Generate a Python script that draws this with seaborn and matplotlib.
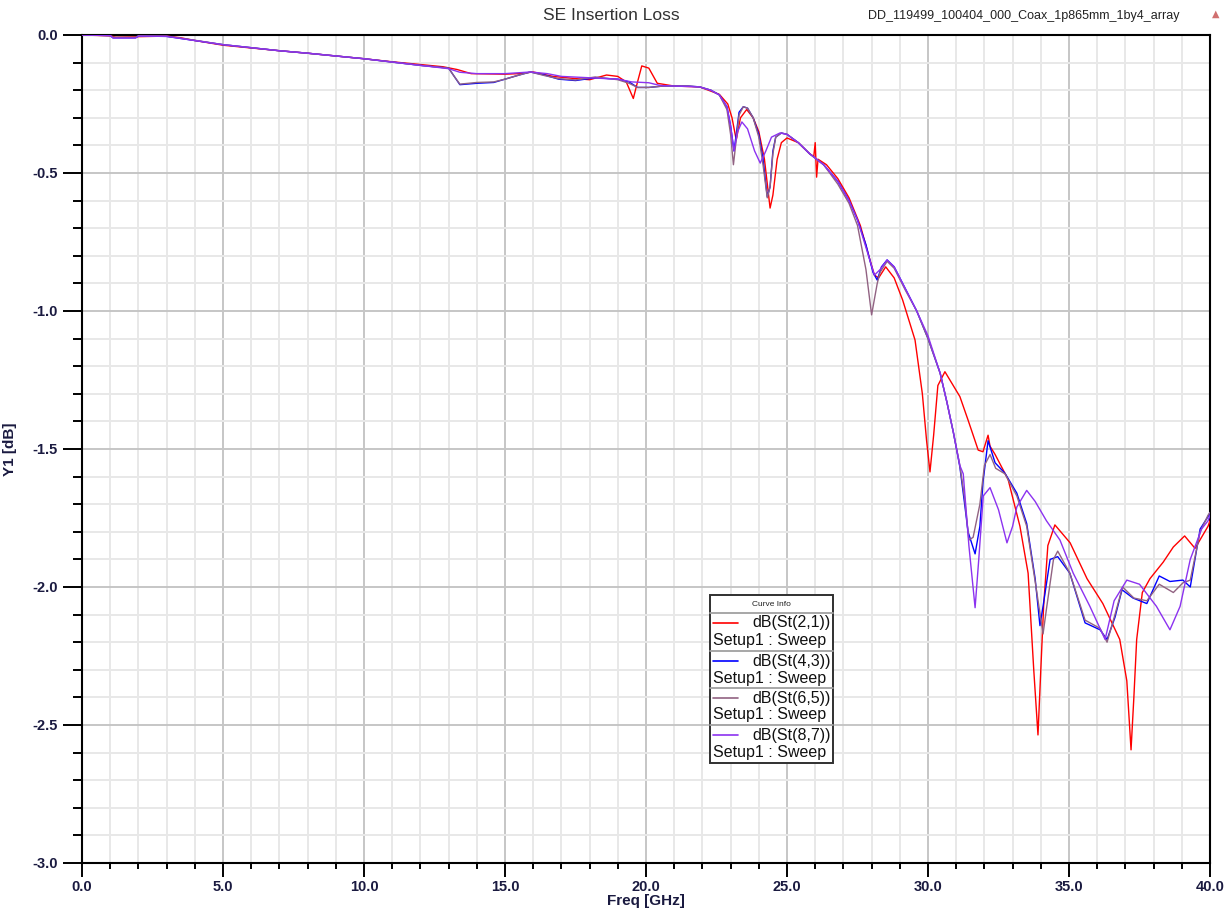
import numpy as np
import pandas as pd
import matplotlib
matplotlib.use("Agg")
import matplotlib.pyplot as plt
import seaborn as sns
from matplotlib.ticker import MultipleLocator, FormatStrFormatter
from matplotlib.patches import Rectangle
from matplotlib.lines import Line2D

# (freq GHz, dB)
st21 = [(0, 0), (1.0, -0.003), (1.2, -0.008), (2.0, -0.006), (3.0, -0.004), (3.5, -0.01), (4.0, -0.02),
        (5.0, -0.037), (6.0, -0.047), (7.0, -0.057), (8.0, -0.066), (9.0, -0.076), (10.0, -0.086),
        (11.0, -0.097), (12.0, -0.107), (12.8, -0.115), (13.3, -0.125), (13.8, -0.14), (15.0, -0.142),
        (15.5, -0.14), (16.0, -0.134), (16.7, -0.15), (17.5, -0.158), (18.0, -0.162), (18.6, -0.145),
        (19.0, -0.15), (19.3, -0.17), (19.55, -0.23), (19.7, -0.17), (19.85, -0.112), (20.1, -0.12),
        (20.4, -0.175), (21.0, -0.185), (21.9, -0.188), (22.6, -0.215), (22.9, -0.25), (23.05, -0.3),
        (23.2, -0.38), (23.35, -0.3), (23.57, -0.27), (23.8, -0.3), (24.0, -0.35), (24.2, -0.45),
        (24.4, -0.627), (24.5, -0.58), (24.65, -0.45), (24.8, -0.39), (25.0, -0.373), (25.4, -0.39),
        (25.8, -0.43), (25.95, -0.44), (26.0, -0.39), (26.05, -0.515), (26.1, -0.45), (26.4, -0.47),
        (26.8, -0.52), (27.2, -0.59), (27.6, -0.69), (27.9, -0.8), (28.1, -0.87), (28.25, -0.88),
        (28.5, -0.84), (28.8, -0.88), (29.1, -0.96), (29.54, -1.105), (29.8, -1.3), (29.95, -1.47),
        (30.07, -1.583), (30.2, -1.45), (30.35, -1.27), (30.6, -1.22), (31.13, -1.31), (31.42, -1.395),
        (31.78, -1.504), (31.95, -1.51), (32.13, -1.45), (32.2, -1.49), (32.38, -1.52), (32.84, -1.61),
        (33.26, -1.78), (33.55, -1.95), (33.75, -2.3), (33.9, -2.536), (34.0, -2.3), (34.1, -2.07),
        (34.25, -1.85), (34.5, -1.775), (35.04, -1.84), (35.64, -1.97), (36.2, -2.06), (36.8, -2.19),
        (37.05, -2.34), (37.2, -2.59), (37.3, -2.4), (37.4, -2.19), (37.6, -2.02), (37.87, -1.97),
        (38.34, -1.91), (38.7, -1.855), (39.1, -1.815), (39.47, -1.86), (39.93, -1.78), (40.0, -1.76)]

st43 = [(0, 0), (1.0, -0.002), (1.1, -0.01), (1.9, -0.01), (2.0, -0.004), (3.0, -0.005), (4.0, -0.02),
        (5.0, -0.035), (6.0, -0.046), (7.0, -0.057), (8.0, -0.066), (9.0, -0.076), (10.0, -0.086),
        (11.0, -0.098), (12.0, -0.11), (13.0, -0.12), (13.2, -0.15), (13.4, -0.18), (14.0, -0.175),
        (14.6, -0.172), (15.0, -0.16), (15.5, -0.145), (15.9, -0.134), (16.4, -0.145), (16.9, -0.16),
        (17.5, -0.165), (18.2, -0.155), (19.0, -0.16), (19.4, -0.17), (19.7, -0.19), (20.1, -0.19),
        (20.6, -0.185), (21.5, -0.185), (21.9, -0.188), (22.3, -0.2), (22.6, -0.217), (22.87, -0.26),
        (23.0, -0.33), (23.12, -0.42), (23.2, -0.36), (23.3, -0.28), (23.45, -0.26), (23.6, -0.265),
        (23.8, -0.3), (24.0, -0.36), (24.15, -0.45), (24.3, -0.586), (24.4, -0.55), (24.5, -0.42),
        (24.6, -0.37), (24.8, -0.355), (25.0, -0.36), (25.4, -0.39), (25.8, -0.43), (26.3, -0.47),
        (26.8, -0.53), (27.2, -0.6), (27.5, -0.67), (27.8, -0.76), (28.05, -0.86), (28.2, -0.888),
        (28.35, -0.84), (28.55, -0.815), (28.8, -0.84), (29.2, -0.92), (29.6, -1.0), (30.0, -1.1),
        (30.43, -1.225), (30.67, -1.33), (30.9, -1.44), (31.13, -1.565), (31.3, -1.7), (31.42, -1.8),
        (31.67, -1.88), (31.84, -1.78), (31.95, -1.62), (32.13, -1.47), (32.38, -1.55), (32.73, -1.588),
        (33.15, -1.66), (33.5, -1.77), (33.8, -1.97), (33.97, -2.14), (34.08, -2.07), (34.33, -1.9),
        (34.6, -1.89), (35.03, -1.95), (35.57, -2.13), (36.1, -2.155), (36.35, -2.19), (36.63, -2.11),
        (36.88, -2.01), (37.27, -2.04), (37.76, -2.06), (38.2, -1.96), (38.58, -1.98), (39.04, -1.975),
        (39.3, -2.0), (39.65, -1.79), (39.93, -1.745), (40.0, -1.73)]

st65 = [(0, 0), (1.0, -0.002), (1.1, -0.008), (1.9, -0.008), (2.0, -0.003), (3.0, -0.004), (4.0, -0.019),
        (5.0, -0.035), (6.0, -0.046), (7.0, -0.057), (8.0, -0.066), (9.0, -0.076), (10.0, -0.086),
        (11.0, -0.098), (12.0, -0.11), (13.0, -0.12), (13.2, -0.15), (13.4, -0.178), (14.0, -0.172),
        (14.6, -0.17), (15.0, -0.16), (15.5, -0.145), (15.9, -0.134), (16.4, -0.147), (16.9, -0.158),
        (17.5, -0.163), (18.2, -0.152), (19.0, -0.162), (19.4, -0.175), (19.7, -0.19), (20.1, -0.19),
        (20.6, -0.185), (21.5, -0.185), (21.9, -0.188), (22.3, -0.2), (22.6, -0.217), (22.87, -0.27),
        (23.0, -0.36), (23.1, -0.47), (23.2, -0.38), (23.3, -0.29), (23.45, -0.26), (23.6, -0.265),
        (23.8, -0.3), (24.0, -0.37), (24.15, -0.47), (24.3, -0.59), (24.4, -0.55), (24.5, -0.43),
        (24.6, -0.37), (24.8, -0.355), (25.0, -0.36), (25.4, -0.39), (25.8, -0.43), (26.3, -0.47),
        (26.8, -0.54), (27.2, -0.61), (27.5, -0.69), (27.8, -0.85), (28.0, -1.014), (28.2, -0.9),
        (28.3, -0.86), (28.55, -0.82), (28.8, -0.845), (29.2, -0.925), (29.6, -1.0), (30.0, -1.1),
        (30.43, -1.225), (30.67, -1.33), (30.9, -1.44), (31.13, -1.56), (31.3, -1.68), (31.45, -1.83),
        (31.6, -1.82), (31.84, -1.7), (32.0, -1.56), (32.2, -1.52), (32.4, -1.57), (32.73, -1.59),
        (33.15, -1.67), (33.5, -1.78), (33.8, -1.98), (34.08, -2.17), (34.2, -2.08), (34.45, -1.9),
        (34.6, -1.87), (35.03, -1.95), (35.57, -2.12), (36.1, -2.15), (36.35, -2.2), (36.63, -2.1),
        (36.9, -2.0), (37.3, -2.04), (37.76, -2.05), (38.2, -1.99), (38.7, -2.02), (39.04, -1.985),
        (39.3, -1.975), (39.65, -1.8), (39.93, -1.74), (40.0, -1.73)]

st87 = [(0, 0), (1.0, -0.002), (1.1, -0.011), (1.9, -0.011), (2.0, -0.004), (3.0, -0.005), (4.0, -0.02),
        (5.0, -0.035), (6.0, -0.046), (7.0, -0.057), (8.0, -0.066), (9.0, -0.076), (10.0, -0.086),
        (11.0, -0.098), (12.0, -0.11), (13.0, -0.122), (13.4, -0.135), (14.0, -0.14), (15.0, -0.14),
        (15.9, -0.134), (16.5, -0.14), (17.0, -0.15), (18.0, -0.155), (19.0, -0.16), (19.5, -0.17),
        (20.1, -0.173), (20.5, -0.183), (21.0, -0.185), (21.9, -0.188), (22.3, -0.2), (22.6, -0.217),
        (22.87, -0.26), (23.0, -0.33), (23.12, -0.42), (23.25, -0.35), (23.4, -0.315), (23.6, -0.34),
        (23.85, -0.42), (24.05, -0.464), (24.25, -0.42), (24.45, -0.37), (24.75, -0.355), (25.0, -0.36),
        (25.4, -0.39), (25.8, -0.43), (26.3, -0.47), (26.8, -0.53), (27.2, -0.6), (27.5, -0.67),
        (27.8, -0.77), (28.1, -0.87), (28.3, -0.85), (28.55, -0.815), (28.8, -0.84), (29.2, -0.92),
        (29.6, -1.0), (30.0, -1.09), (30.43, -1.225), (30.67, -1.33), (30.9, -1.44), (31.13, -1.56),
        (31.25, -1.59), (31.45, -1.85), (31.67, -2.075), (31.8, -1.9), (31.96, -1.67), (32.2, -1.64),
        (32.5, -1.72), (32.8, -1.84), (33.0, -1.78), (33.15, -1.71), (33.5, -1.65), (33.8, -1.69),
        (34.2, -1.76), (34.68, -1.83), (35.15, -1.95), (35.74, -2.07), (36.28, -2.19), (36.6, -2.05),
        (37.05, -1.975), (37.5, -1.99), (38.1, -2.07), (38.58, -2.155), (38.94, -2.07), (39.3, -1.9),
        (39.7, -1.79), (39.93, -1.76), (40.0, -1.74)]

curve_names = ["dB(St(2,1))", "dB(St(4,3))", "dB(St(6,5))", "dB(St(8,7))"]
curve_colors = ["#ff0000", "#0000ff", "#916282", "#8c32f0"]
setup_label = "Setup1 : Sweep"

W, H = 1230, 913


def fx(x):
    return x / W


def fy(y):
    return 1 - y / H


def main():
    frames = []
    for name, pts in zip(curve_names, [st21, st43, st65, st87]):
        f, v = zip(*pts)
        frames.append(pd.DataFrame({"Freq": f, "dB": v, "curve": name}))
    df = pd.concat(frames, ignore_index=True)

    sns.set_style("white")
    plt.rcParams["font.family"] = ["Liberation Sans", "DejaVu Sans"]
    txt_col = "#1a1a40"

    fig = plt.figure(figsize=(W / 100, H / 100), dpi=100)
    ax = fig.add_axes([fx(82), fy(863), 1128 / W, 828 / H])

    sns.lineplot(data=df, x="Freq", y="dB", hue="curve", hue_order=curve_names,
                 palette=curve_colors, estimator=None, sort=False, lw=1.0,
                 legend=False, ax=ax, zorder=3)

    ax.set_xlim(0, 40)
    ax.set_ylim(-3, 0)
    ax.xaxis.set_major_locator(MultipleLocator(5))
    ax.xaxis.set_minor_locator(MultipleLocator(1))
    ax.yaxis.set_major_locator(MultipleLocator(0.5))
    ax.yaxis.set_minor_locator(MultipleLocator(0.1))
    ax.xaxis.set_major_formatter(FormatStrFormatter("%.1f"))
    ax.yaxis.set_major_formatter(FormatStrFormatter("%.1f"))

    ax.grid(which="minor", color="#e8e8e8", lw=1.4, zorder=0)
    ax.grid(which="major", color="#c6c6c6", lw=1.4, zorder=0)
    ax.set_axisbelow(True)
    for s in ax.spines.values():
        s.set_color("black")
        s.set_linewidth(1.5)

    # seaborn's white style switches the ticks off
    ax.tick_params(which="both", left=True, bottom=True, top=False, right=False,
                   color="black")
    ax.tick_params(axis="y", which="major", direction="out", length=13.5, width=1.4,
                   pad=4, labelsize=10.5, labelcolor=txt_col)
    ax.tick_params(axis="y", which="minor", direction="out", length=6.5, width=1.4)
    ax.tick_params(axis="x", which="major", direction="out", length=10, width=1.4,
                   pad=2, labelsize=10.5, labelcolor=txt_col)
    ax.tick_params(axis="x", which="minor", direction="out", length=4.5, width=1.4)
    for lab in ax.get_xticklabels() + ax.get_yticklabels():
        lab.set_fontweight("bold")

    ax.set_xlabel("Freq [GHz]", fontsize=11, fontweight="bold", color=txt_col)
    ax.set_ylabel("Y1 [dB]", fontsize=11, fontweight="bold", color=txt_col)
    ax.xaxis.set_label_coords(0.5, -0.038)
    ax.yaxis.set_label_coords(-0.058, 0.5)

    fig.text(fx(611), fy(15), "SE Insertion Loss", ha="center", va="center",
             fontsize=12.5, color="#333333")
    fig.text(fx(1024), fy(16), "DD_119499_100404_000_Coax_1p865mm_1by4_array",
             ha="center", va="center", fontsize=9, color="#222222")
    fig.text(fx(1216), fy(14), "\u25b2", ha="center", va="center", fontsize=7,
             color="#d07070", family="DejaVu Sans")

    # Curve Info box
    x0, x1, y0, y1 = 710, 833, 595, 763
    fig.add_artist(Rectangle((fx(x0), fy(y1)), fx(x1) - fx(x0), fy(y0) - fy(y1),
                             transform=fig.transFigure, facecolor="white",
                             edgecolor="#303030", lw=1.4, zorder=5))
    fig.text(fx((x0 + x1) / 2), fy(604), "Curve Info", ha="center", va="center",
             fontsize=6, color="#222222", zorder=6)
    seps = [613, 651, 688, 725]
    for yy in seps:
        fig.add_artist(Line2D([fx(x0), fx(x1)], [fy(yy), fy(yy)], transform=fig.transFigure,
                              color="#a0a0a0", lw=1.3, zorder=6))
    for i, (name, col) in enumerate(zip(curve_names, curve_colors)):
        ytop = seps[i]
        fig.add_artist(Line2D([fx(713), fx(738)], [fy(ytop + 10), fy(ytop + 10)],
                              transform=fig.transFigure, color=col, lw=1.2, zorder=6))
        fig.text(fx(831), fy(ytop + 10), name, ha="right", va="center",
                 fontsize=11.5, color="#111111", zorder=6)
        fig.text(fx(713), fy(ytop + 27), setup_label, ha="left", va="center",
                 fontsize=11.5, color="#111111", zorder=6)

    fig.savefig("out.png", dpi=100)


if __name__ == "__main__":
    main()
